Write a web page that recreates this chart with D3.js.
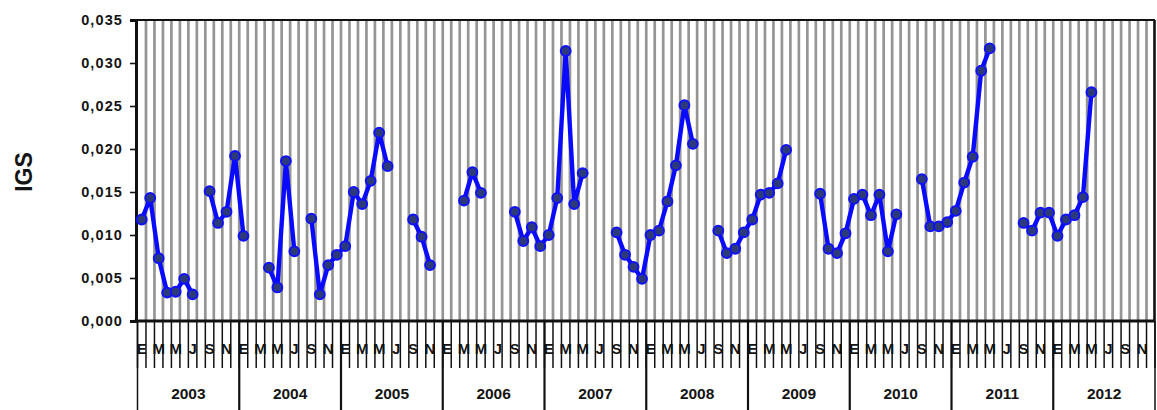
<!DOCTYPE html>
<html>
<head>
<meta charset="utf-8">
<script src="https://cdn.jsdelivr.net/npm/d3@7"></script>
<style>
  html, body { margin: 0; padding: 0; background: #fff; }
  svg { display: block; }
  text { font-family: "Liberation Sans", Arial, sans-serif; font-weight: bold; fill: #141414; }
</style>
</head>
<body>
<svg id="chart" width="1157" height="410"></svg>
<script>
// Monthly IGS series, one array per year (null = no sampling that month)
const years = ["2003", "2004", "2005", "2006", "2007", "2008", "2009", "2010", "2011", "2012"];
const monthTickLabels = ["E", "M", "M", "J", "S", "N"];   // shown on Jan, Mar, May, Jul, Sep, Nov
const monthTickIndex = [0, 2, 4, 6, 8, 10];
const yTicks = [0, 0.005, 0.010, 0.015, 0.020, 0.025, 0.030, 0.035];

const igs2003 = [0.0118, 0.0143, 0.0073, 0.0033, 0.0034, 0.0049, 0.0031, null, 0.0151, 0.0114, 0.0127, 0.0192];
const igs2004 = [0.0099, null, null, 0.0062, 0.0039, 0.0186, 0.0081, null, 0.0119, 0.0031, 0.0065, 0.0077];
const igs2005 = [0.0087, 0.0150, 0.0136, 0.0163, 0.0219, 0.0180, null, null, 0.0118, 0.0098, 0.0065, null];
const igs2006 = [null, null, 0.0140, 0.0173, 0.0149, null, null, null, 0.0127, 0.0093, 0.0109, 0.0087];
const igs2007 = [0.0100, 0.0143, 0.0314, 0.0136, 0.0172, null, null, null, 0.0103, 0.0077, 0.0063, 0.0049];
const igs2008 = [0.0100, 0.0105, 0.0139, 0.0181, 0.0251, 0.0206, null, null, 0.0105, 0.0079, 0.0084, 0.0103];
const igs2009 = [0.0118, 0.0147, 0.0149, 0.0160, 0.0199, null, null, null, 0.0148, 0.0084, 0.0079, 0.0102];
const igs2010 = [0.0142, 0.0147, 0.0123, 0.0147, 0.0081, 0.0124, null, null, 0.0165, 0.0110, 0.0110, 0.0115];
const igs2011 = [0.0128, 0.0161, 0.0191, 0.0291, 0.0317, null, null, null, 0.0114, 0.0105, 0.0126, 0.0126];
const igs2012 = [0.0099, 0.0118, 0.0123, 0.0144, 0.0266, null, null, null, null, null, null, null];

const series = [igs2003, igs2004, igs2005, igs2006, igs2007, igs2008, igs2009, igs2010, igs2011, igs2012]
  .flatMap((arr, yi) => arr.map((v, m) => ({ idx: yi * 12 + m, value: v })));

const svg = d3.select("#chart");
const plotLeft = 137.5, plotRight = 1155, plotTop = 20, plotBottom = 321;
const nMonths = years.length * 12;

const x = d3.scaleBand().domain(d3.range(nMonths)).range([plotLeft, plotRight]).padding(0);
const bw = x.bandwidth();
const edge = k => plotLeft + k * bw;                 // month boundary k
const y = d3.scaleLinear().domain([0, 0.035]).range([plotBottom, plotTop]);

// vertical grey stripes, one per month boundary
svg.append("g")
  .selectAll("line")
  .data(d3.range(1, nMonths))
  .join("line")
  .attr("x1", d => edge(d)).attr("x2", d => edge(d))
  .attr("y1", plotTop).attr("y2", plotBottom)
  .attr("stroke", "#959595")
  .attr("stroke-width", 2.7);

// frame: top and right borders
svg.append("line").attr("x1", plotLeft - 2).attr("x2", plotRight).attr("y1", plotTop).attr("y2", plotTop)
  .attr("stroke", "#111").attr("stroke-width", 2.2);
svg.append("line").attr("x1", plotRight - 0.5).attr("x2", plotRight - 0.5).attr("y1", plotTop).attr("y2", plotBottom)
  .attr("stroke", "#111").attr("stroke-width", 2.6);

// month letters under the axis
const letters = [];
years.forEach((yr, yi) => monthTickIndex.forEach((m, j) => letters.push({ idx: yi * 12 + m, t: monthTickLabels[j] })));
svg.append("g")
  .selectAll("text")
  .data(letters)
  .join("text")
  .attr("x", d => x(d.idx) + bw / 2)
  .attr("y", 353.5)
  .attr("text-anchor", "middle")
  .attr("font-size", 15)
  .text(d => d.t);

// month ticks below the axis
svg.append("g")
  .selectAll("line")
  .data(d3.range(0, nMonths + 1))
  .join("line")
  .attr("x1", d => edge(d)).attr("x2", d => edge(d))
  .attr("y1", plotBottom).attr("y2", 368)
  .attr("stroke", "#111")
  .attr("stroke-width", 1.5);

// year separators and labels
svg.append("g")
  .selectAll("line")
  .data(d3.range(0, years.length + 1))
  .join("line")
  .attr("x1", d => edge(d * 12)).attr("x2", d => edge(d * 12))
  .attr("y1", plotBottom).attr("y2", 410)
  .attr("stroke", "#111")
  .attr("stroke-width", d => (d === 0 || d === years.length) ? 1.5 : 2.2);

svg.append("g")
  .selectAll("text")
  .data(years)
  .join("text")
  .attr("x", (d, i) => edge(i * 12 + 6))
  .attr("y", 399)
  .attr("text-anchor", "middle")
  .attr("font-size", 15.5)
  .text(d => d);

// y axis
const yAxis = d3.axisLeft(y)
  .tickValues(yTicks)
  .tickSize(6)
  .tickPadding(7)
  .tickFormat(d => d3.format(".3f")(d).replace(".", ","));
const gy = svg.append("g").attr("transform", `translate(${plotLeft - 1.5},0)`).call(yAxis);
gy.select(".domain").attr("stroke", "#111").attr("stroke-width", 3);
gy.selectAll(".tick line").attr("stroke", "#111").attr("stroke-width", 1.6);
gy.selectAll(".tick text")
  .attr("font-family", "'Liberation Sans', Arial, sans-serif")
  .attr("font-weight", "bold")
  .attr("font-size", 14.5)
  .attr("letter-spacing", 1.1)
  .attr("fill", "#141414");

// x axis baseline
svg.append("line").attr("x1", plotLeft - 3).attr("x2", plotRight).attr("y1", plotBottom).attr("y2", plotBottom)
  .attr("stroke", "#111").attr("stroke-width", 3);

// y axis title
svg.append("text")
  .attr("transform", "translate(32,172) rotate(-90)")
  .attr("text-anchor", "middle")
  .attr("font-size", 23)
  .text("IGS");

// data line with gaps
const line = d3.line()
  .defined(d => d.value !== null)
  .x(d => x(d.idx) + bw / 2)
  .y(d => y(d.value));

svg.append("path")
  .datum(series)
  .attr("d", line)
  .attr("fill", "none")
  .attr("stroke", "#0a0aff")
  .attr("stroke-width", 4.4)
  .attr("stroke-linejoin", "round");

svg.append("g")
  .selectAll("circle")
  .data(series.filter(d => d.value !== null))
  .join("circle")
  .attr("cx", d => x(d.idx) + bw / 2)
  .attr("cy", d => y(d.value))
  .attr("r", 4.9)
  .attr("fill", "#2c3a7a")
  .attr("stroke", "#1010ff")
  .attr("stroke-width", 2);
</script>
</body>
</html>
